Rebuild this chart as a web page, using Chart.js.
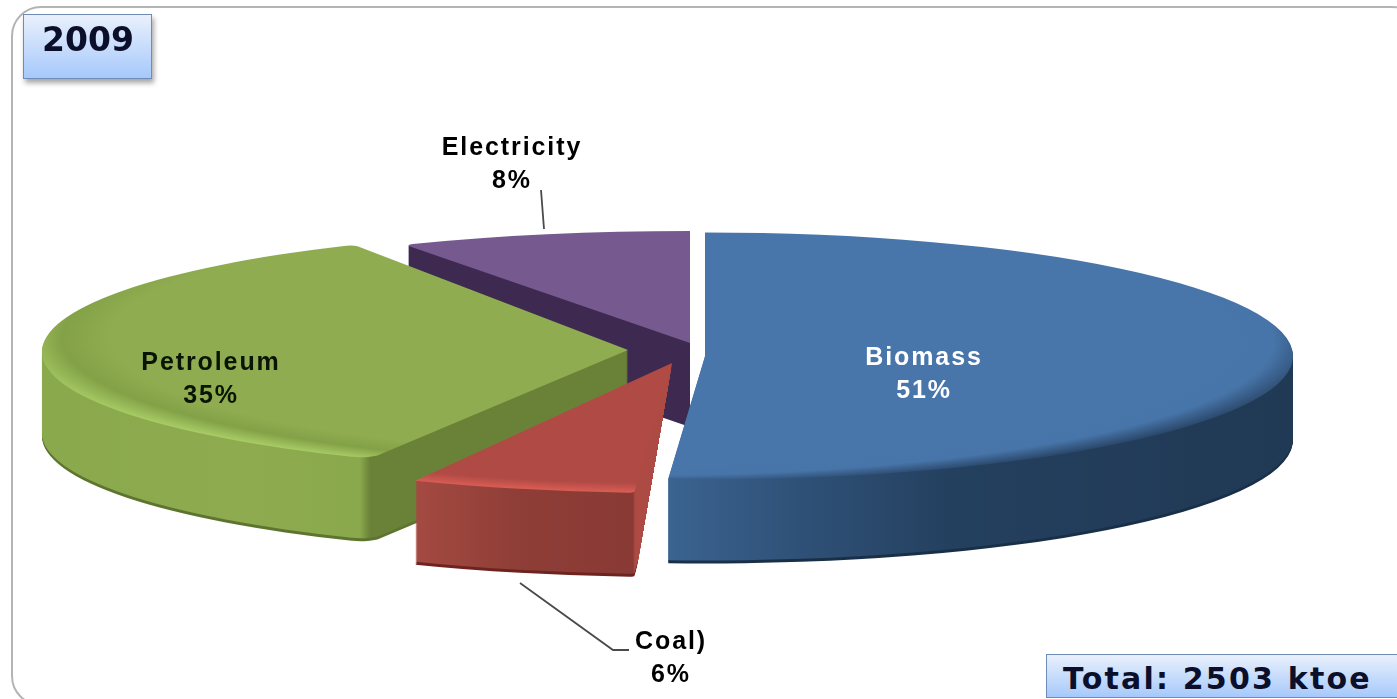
<!DOCTYPE html>
<html lang="en">
<head>
<meta charset="UTF-8">
<title>2009 energy consumption</title>
<style>
    html, body { margin: 0; padding: 0; background: #fff; overflow: hidden; }
    #wrap { position: relative; width: 1397px; height: 699px; overflow: hidden; }
    canvas { position: absolute; left: 0; top: 0; }
    #frame {
        position: absolute; left: 11px; top: 6px; width: 1440px; height: 700px;
        border: 2.5px solid #b4b4b4; border-radius: 30px 60px 30px 30px; box-sizing: border-box;
    }
    .tag {
        position: absolute; box-sizing: border-box;
        font-family: "DejaVu Sans", sans-serif; font-weight: bold; color: #0b0f2a;
        background: linear-gradient(to bottom, #e9f0fc, #a6c9fb);
        border: 1.5px solid #6f8cb8;
    }
    #year {
        left: 23px; top: 14px; width: 129px; height: 65px;
        font-size: 33px; line-height: 50px; padding-left: 18px;
        box-shadow: 2px 4px 5px rgba(0,0,0,0.35);
    }
    #total {
        left: 1046px; top: 654px; width: 380px; height: 44px;
        font-size: 30px; line-height: 48px; padding-left: 16px; letter-spacing: 2.2px;
    }
</style>
</head>
<body>
<div id="wrap">
    <div id="frame"></div>
    <canvas id="pie" width="1397" height="699"></canvas>
    <div class="tag" id="year">2009</div>
    <div class="tag" id="total">Total: 2503 ktoe</div>
</div>
<script src="https://cdn.jsdelivr.net/npm/chart.js"></script>
<script>
    const categories = ['Biomass', 'Coal)', 'Petroleum', 'Electricity'];
    const shares = [51, 6, 35, 8];

    // face colours per slice
    const faceColors = ['#4876ab', '#b04a44', '#8fac50', '#75598f'];
    const rimColors = ['#2a4668', '#dc5e55', '#a9cd66', '#75598f'];
    const innerRimColors = ['#4775a9', '#b04a44', '#83a147', '#75598f'];
    // bevel centre is pushed away from the lit edge, as a fraction of the radius
    const rimShiftX = [-0.12, 0, 0.12, 0];
    const rimShiftY = [-0.12, -0.1, -0.12, 0];

    // where each exploded slice sits on the page, the picture is tilted so rx != ry
    const sliceApexX = [705, 672, 628, 690];
    const sliceApexY = [356, 363, 350, 343];
    const sliceRx = [588, 603, 586, 591];
    const sliceRy = [123.5, 130, 120, 112];
    const sliceSkew = [0, 0, -0.075, 0];
    const roundStart = [0, 3, 12, 5];
    const roundEnd = [0, 0, 5, 0];
    const depth = 84;
    const drawOrder = [3, 2, 0, 1]; // back to front

    // wall colours along page x, hard stop where the curved wall turns into the cut side
    const wallStops = [
        [[665, '#3b6491'], [800, '#2f5177'], [950, '#24405f'], [1293, '#203954']],
        [[415, '#a44a42'], [520, '#8e3e37'], [633, '#8a3a34'], [635, '#ad4a43']],
        [[42, '#8aa84c'], [250, '#8eab50'], [368, '#8aa84c'], [378, '#6a8238']],
        [[0, '#3e2a50'], [1397, '#3e2a50']]
    ];
    const edgeColors = ['#1a3049', '#6e2420', '#5d7530', '#3e2a50'];

    const labelX = [924, 671, 211, 512];
    const labelY = [358, 642, 363, 148];
    const labelColors = ['#ffffff', '#000000', '#0a1405', '#000000'];

    function wallPaint(ctx, i, arc) {
        const sx = arc.outerRadius / sliceRx[i];
        const g = ctx.createLinearGradient(arc.x - sliceApexX[i] * sx, 0, arc.x + (1397 - sliceApexX[i]) * sx, 0);
        wallStops[i].forEach(s => g.addColorStop(s[0] / 1397, s[1]));
        return g;
    }

    function withPaint(arc, color, fn) {
        const keep = arc.options;
        arc.options = Object.assign({}, keep, { backgroundColor: color, borderWidth: 0 });
        fn();
        arc.options = keep;
    }

    function placeSlice(ctx, arc, i, drop) {
        ctx.translate(sliceApexX[i], sliceApexY[i] + drop);
        ctx.transform(1, 0, sliceSkew[i], 1, 0, 0);
        ctx.scale(sliceRx[i] / arc.outerRadius, sliceRy[i] / arc.outerRadius);
        ctx.translate(-arc.x, -arc.y);
    }

    const tiltedPie = {
        id: 'tiltedPie',
        beforeDatasetsDraw(chart) {
            const ctx = chart.ctx;
            const arcs = chart.getDatasetMeta(0).data;
            drawOrder.forEach(i => {
                const arc = arcs[i];
                const R = arc.outerRadius;
                const wall = wallPaint(ctx, i, arc);
                ctx.save();
                if (i === 1) {
                    // coal's cut side narrows to its bottom corner
                    ctx.beginPath();
                    ctx.moveTo(0, 0);
                    ctx.lineTo(672, 0);
                    ctx.lineTo(672, 363);
                    ctx.lineTo(635, 578);
                    ctx.lineTo(635, 699);
                    ctx.lineTo(0, 699);
                    ctx.closePath();
                    ctx.clip();
                }
                for (let d = depth; d >= 1; d--) {
                    ctx.save();
                    placeSlice(ctx, arc, i, d);
                    withPaint(arc, d > depth - 3 ? edgeColors[i] : wall, () => arc.draw(ctx));
                    ctx.restore();
                }
                ctx.restore();
                // top face with the bevel
                const fx = arc.x + rimShiftX[i] * R;
                const fy = arc.y + rimShiftY[i] * R;
                const reach = R * (1 + Math.hypot(rimShiftX[i], rimShiftY[i]));
                const face = ctx.createRadialGradient(fx, fy, 0, fx, fy, reach);
                face.addColorStop(0, faceColors[i]);
                face.addColorStop(0.86, faceColors[i]);
                face.addColorStop(0.93, innerRimColors[i]);
                face.addColorStop(1, rimColors[i]);
                ctx.save();
                placeSlice(ctx, arc, i, 0);
                withPaint(arc, face, () => arc.draw(ctx));
                ctx.restore();
            });
            return false;
        },
        afterDraw(chart) {
            const ctx = chart.ctx;
            ctx.save();
            // leader lines
            ctx.strokeStyle = '#4a4a4a';
            ctx.lineWidth = 1.8;
            ctx.beginPath();
            ctx.moveTo(541, 190);
            ctx.lineTo(544, 229);
            ctx.moveTo(520, 583);
            ctx.lineTo(613, 650);
            ctx.lineTo(629, 650);
            ctx.stroke();
            // labels
            ctx.font = 'bold 25px "Liberation Sans", Arial, sans-serif';
            ctx.letterSpacing = '1.9px';
            ctx.textAlign = 'center';
            ctx.textBaseline = 'middle';
            categories.forEach((name, i) => {
                ctx.fillStyle = labelColors[i];
                ctx.fillText(name, labelX[i], labelY[i]);
                ctx.fillText(shares[i] + '%', labelX[i], labelY[i] + 33);
            });
            ctx.restore();
        }
    };

    new Chart(document.getElementById('pie'), {
        type: 'pie',
        data: {
            labels: categories,
            datasets: [{
                data: shares,
                backgroundColor: faceColors,
                borderWidth: 0,
                borderRadius: roundStart.map((r, i) => ({ outerStart: r, outerEnd: roundEnd[i], innerStart: 0, innerEnd: 0 }))
            }]
        },
        options: {
            responsive: false,
            animation: false,
            plugins: { legend: { display: false }, tooltip: { enabled: false } }
        },
        plugins: [tiltedPie]
    });
</script>
</body>
</html>
